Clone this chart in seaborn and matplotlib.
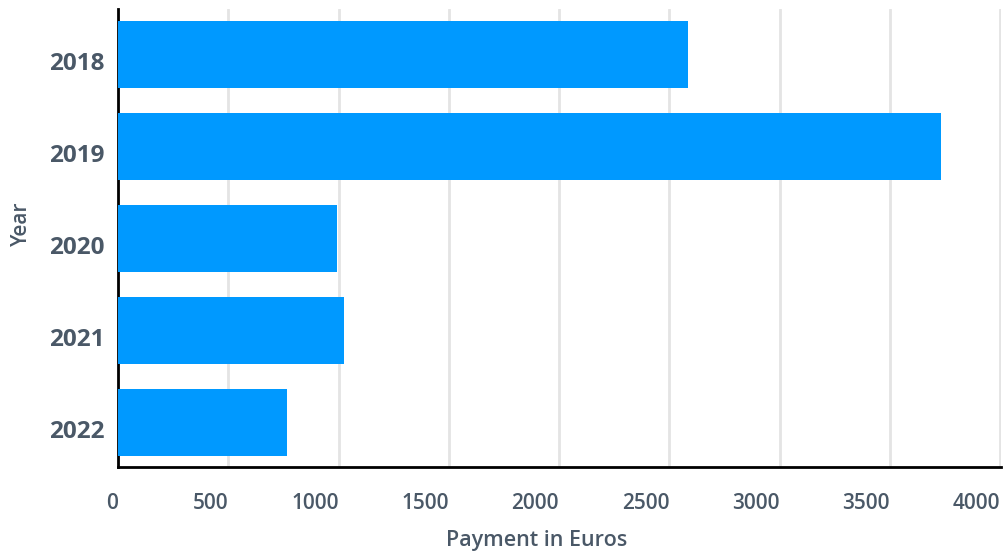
import matplotlib
matplotlib.use("Agg")
import matplotlib.pyplot as plt
import matplotlib.transforms as mtransforms
import seaborn as sns
import pandas as pd

years = ["2018", "2019", "2020", "2021", "2022"]
payments = [2583, 3733, 992, 1024, 765]
xticks = [0, 500, 1000, 1500, 2000, 2500, 3000, 3500, 4000]

sns.set_theme(style="white")
plt.rcParams['font.family'] = ['Open Sans', 'DejaVu Sans']

df = pd.DataFrame({"Year": years, "Payment": payments})
text_color = "#4a5867"

fig = plt.figure(figsize=(10.07, 5.53), dpi=100)
ax = fig.add_axes([0.1172, 0.1555, 0.9945 - 0.1172, 0.9846 - 0.1555])
sns.barplot(data=df, x="Payment", y="Year", orient="h", color="#0099ff",
            saturation=1, width=0.73, ax=ax, zorder=3, linewidth=0,
            edgecolor="none")

ax.set_xlim(0, 4006)
ax.set_ylim(4.48, -0.5)
ax.set_xticks(xticks)
ax.set_xticklabels([str(t) for t in xticks], fontsize=15, color=text_color,
                   fontweight="semibold", ha="right")
ax.set_yticks(range(len(years)))
ax.set_yticklabels(years, fontsize=17.5, fontweight="bold", color=text_color)
ax.tick_params(axis="x", length=0, pad=19)
ax.tick_params(axis="y", length=0, pad=10)
offset = mtransforms.ScaledTranslation(0, -6 / 100, fig.dpi_scale_trans)
for lbl in ax.get_yticklabels():
    lbl.set_transform(lbl.get_transform() + offset)
ax.xaxis.grid(True, color="#e4e4e4", linewidth=2, zorder=0)
ax.yaxis.grid(False)
ax.set_axisbelow(True)
for s in ["top", "right"]:
    ax.spines[s].set_visible(False)
for s in ["left", "bottom"]:
    ax.spines[s].set_color("black")
    ax.spines[s].set_linewidth(2)
ax.set_xlabel("Payment in Euros", fontsize=15.5, color=text_color,
              fontweight="semibold")
ax.set_ylabel("Year", fontsize=15, color=text_color, fontweight="semibold")
ax.xaxis.set_label_coords(0.474, -0.137)
ax.yaxis.set_label_coords(-0.097, 0.53)

fig.savefig("out.png", dpi=100)
